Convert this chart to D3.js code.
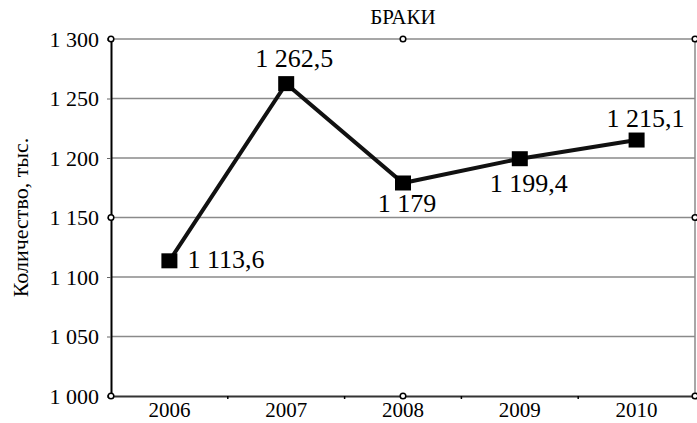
<!DOCTYPE html>
<html>
<head>
<meta charset="utf-8">
<script src="https://cdn.jsdelivr.net/npm/d3@7"></script>
<style>
  body { margin: 0; background: #fff; }
</style>
</head>
<body>
<div id="chart"></div>
<script>
  const years = ["2006", "2007", "2008", "2009", "2010"];
  const marriages = [1113.6, 1262.5, 1179, 1199.4, 1215.1];
  const labels = ["1 113,6", "1 262,5", "1 179", "1 199,4", "1 215,1"];
  const yTicks = [1000, 1050, 1100, 1150, 1200, 1250, 1300];

  const serif = "'Liberation Serif'";

  const margin = { top: 39, right: 2, bottom: 27, left: 111 },
    width = 697 - margin.left - margin.right,
    height = 423 - margin.top - margin.bottom;

  const svg = d3.select("#chart")
    .append("svg")
    .attr("width", 697)
    .attr("height", 423);

  const g = svg.append("g")
    .attr("transform", `translate(${margin.left},${margin.top})`);

  const x = d3.scaleBand()
    .domain(years)
    .range([0, width]);

  const y = d3.scaleLinear()
    .domain([1000, 1300])
    .range([height, 0]);

  const fmt = d => d3.format(",")(d).replace(/,/g, " ");

  // grid
  g.append("g")
    .selectAll("line")
    .data(yTicks.slice(1))
    .enter()
    .append("line")
    .attr("x1", 0)
    .attr("x2", width)
    .attr("y1", d => y(d))
    .attr("y2", d => y(d))
    .attr("stroke", "#8a8a8a")
    .attr("stroke-width", 1.5);

  // right border
  g.append("line")
    .attr("x1", width).attr("x2", width)
    .attr("y1", 0).attr("y2", height)
    .attr("stroke", "#8a8a8a")
    .attr("stroke-width", 1.5);

  // y axis
  const yAxis = g.append("g")
    .call(d3.axisLeft(y).tickValues(yTicks).tickFormat(fmt).tickSize(4).tickPadding(8));
  yAxis.attr("font-family", null);
  yAxis.select(".domain").attr("stroke", "#000").attr("stroke-width", 2);
  yAxis.selectAll(".tick line").attr("stroke", "#666");
  yAxis.selectAll("text")
    .style("font-family", serif)
    .style("font-size", "22px")
    .attr("dy", "0.34em");

  // x axis
  const xAxis = g.append("g")
    .attr("transform", `translate(0,${height})`)
    .call(d3.axisBottom(x).tickSize(0).tickPadding(6));
  xAxis.attr("font-family", null);
  xAxis.select(".domain").attr("stroke", "#333").attr("stroke-width", 2);
  xAxis.selectAll("text")
    .style("font-family", serif)
    .style("font-size", "21px");

  // small ticks between categories
  g.append("g")
    .selectAll("line")
    .data(years.slice(1))
    .enter()
    .append("line")
    .attr("x1", d => x(d))
    .attr("x2", d => x(d))
    .attr("y1", height)
    .attr("y2", height + 3)
    .attr("stroke", "#000")
    .attr("stroke-width", 1.5);

  // handles
  const handles = [[0, 0], [width / 2, 0], [width, 0], [0, height / 2], [width, height / 2], [0, height], [width / 2, height], [width, height]];
  g.append("g")
    .selectAll("circle")
    .data(handles)
    .enter()
    .append("circle")
    .attr("cx", d => d[0])
    .attr("cy", d => d[1])
    .attr("r", 2.8)
    .attr("fill", "#fff")
    .attr("stroke", "#000")
    .attr("stroke-width", 1.5);

  // line
  const line = d3.line()
    .x((d, i) => x(years[i]) + x.bandwidth() / 2)
    .y(d => y(d));

  g.append("path")
    .datum(marriages)
    .attr("fill", "none")
    .attr("stroke", "#111")
    .attr("stroke-width", 4)
    .attr("d", line);

  const sw = 16, sh = 15;
  g.append("g")
    .selectAll("rect")
    .data(marriages)
    .enter()
    .append("rect")
    .attr("x", (d, i) => x(years[i]) + x.bandwidth() / 2 - sw / 2)
    .attr("y", d => y(d) - sh / 2)
    .attr("width", sw)
    .attr("height", sh)
    .attr("fill", "#000");

  // data labels
  const offs = [[18, 7, "start"], [8, -17, "middle"], [4, 29, "middle"], [9, 33, "middle"], [9, -13, "middle"]];
  g.append("g")
    .selectAll("text")
    .data(marriages)
    .enter()
    .append("text")
    .attr("x", (d, i) => x(years[i]) + x.bandwidth() / 2 + offs[i][0])
    .attr("y", (d, i) => y(d) + offs[i][1])
    .attr("text-anchor", (d, i) => offs[i][2])
    .style("font-family", serif)
    .style("font-size", "26px")
    .text((d, i) => labels[i]);

  // title
  svg.append("text")
    .attr("x", margin.left + width / 2)
    .attr("y", 24)
    .attr("text-anchor", "middle")
    .style("font-family", serif)
    .style("font-size", "21px")
    .text("БРАКИ");

  svg.append("text")
    .attr("transform", `translate(28,${margin.top + height / 2}) rotate(-90)`)
    .attr("text-anchor", "middle")
    .style("font-family", serif)
    .style("font-size", "22px")
    .text("Количество, тыс.");
</script>
</body>
</html>
